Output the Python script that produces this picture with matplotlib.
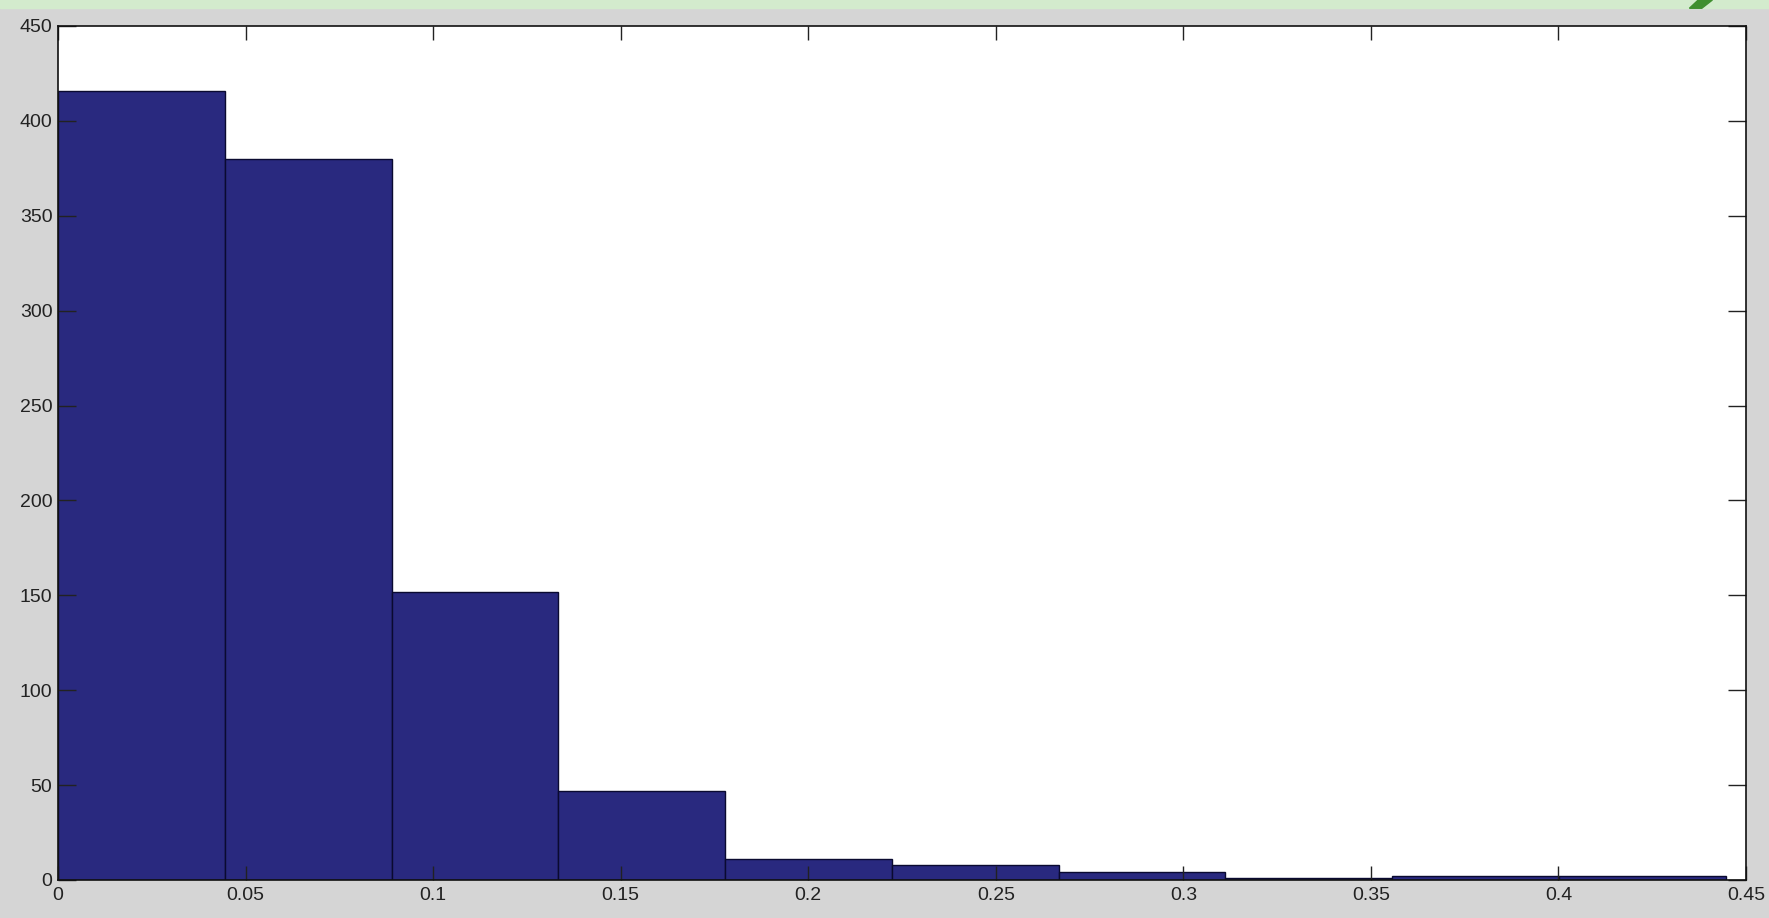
import numpy as np
import matplotlib.pyplot as plt
from matplotlib.patches import Rectangle, Polygon

# histogram counts (10 bins)
conteos = [416, 380, 152, 47, 11, 8, 4, 1, 2, 2]
x_min = 0.0
x_max = 0.4446
x_ticks = [0, 0.05, 0.1, 0.15, 0.2, 0.25, 0.3, 0.35, 0.4, 0.45]
x_labels = ['0', '0.05', '0.1', '0.15', '0.2', '0.25', '0.3', '0.35', '0.4', '0.45']
y_ticks = [0, 50, 100, 150, 200, 250, 300, 350, 400, 450]

plt.rcParams['font.family'] = ['Liberation Sans', 'DejaVu Sans']

fig = plt.figure(figsize=(17.69, 9.18), dpi=100)
fig.patch.set_facecolor('#d5d5d5')

# franja verde de arriba (fondo de la diapositiva)
fig.patches.append(Rectangle((0, 0.991), 1, 0.009, transform=fig.transFigure,
                             color='#d3ebcd', zorder=0))
grad = np.linspace(0, 1, 200)
verde = np.exp(-((grad - 0.78) / 0.07) ** 2)
gax = fig.add_axes([0, 0.991, 1, 0.009])
gax.imshow(verde[None, :], aspect='auto', cmap='Greens', vmin=-0.3, vmax=1.6,
           extent=[0, 1, 0, 1], alpha=0.9)
gax.axis('off')
fig.patches.append(Polygon([[0.955, 0.991], [0.962, 0.991], [0.968, 1.0], [0.960, 1.0]],
                           closed=True, transform=fig.transFigure, color='#3f8f2f', zorder=5))

ax = fig.add_axes([0.0328, 0.0414, 0.9542, 0.9303])
bordes = np.linspace(x_min, x_max, len(conteos) + 1)
anchos = np.diff(bordes)
ax.bar(bordes[:-1], conteos, width=anchos, align='edge', color='#29297f',
       edgecolor='#0a0a30', linewidth=1.0)

ax.set_xlim(0, 0.45)
ax.set_ylim(0, 450)
ax.set_xticks(x_ticks)
ax.set_xticklabels(x_labels)
ax.set_yticks(y_ticks)
ax.tick_params(axis='both', direction='in', top=True, right=True,
               labelsize=14, colors='#222222', width=1.0)
ax.tick_params(axis='x', length=10, pad=5)
ax.tick_params(axis='y', length=13, pad=4)
for s in ax.spines.values():
    s.set_linewidth(1.2)
    s.set_color('#111111')

plt.savefig('out.png', dpi=100, facecolor=fig.get_facecolor())
